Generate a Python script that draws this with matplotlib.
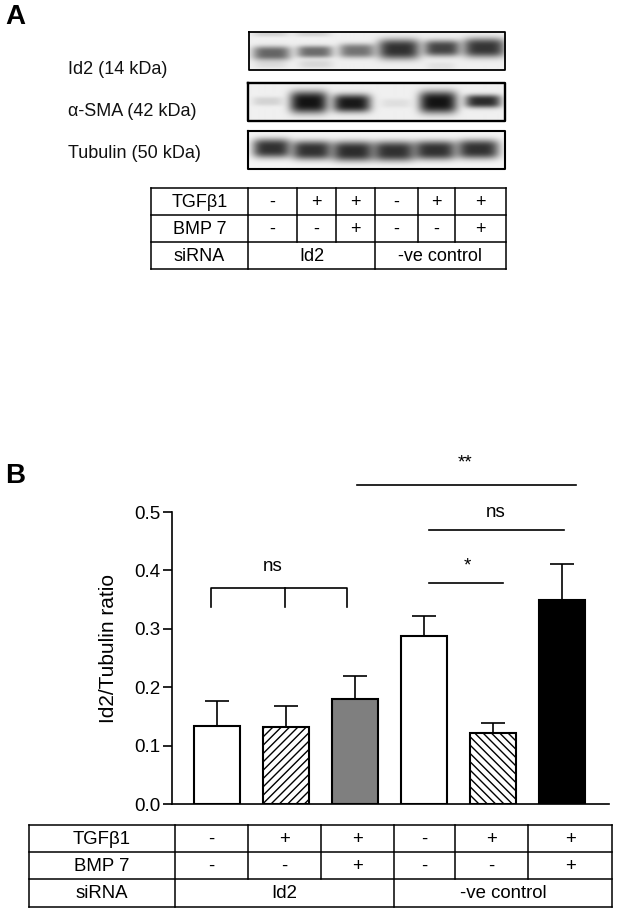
import numpy as np
import matplotlib
matplotlib.use("Agg")
import matplotlib.pyplot as plt

plt.rcParams['font.family'] = ['Liberation Sans', 'DejaVu Sans']
plt.rcParams['hatch.linewidth'] = 1.0

# =========================
# DATA
# =========================
ratio_values = [0.134, 0.131, 0.179, 0.288, 0.122, 0.349]
ratio_upper = [0.176, 0.167, 0.219, 0.322, 0.138, 0.411]
bar_faces = ['white', 'white', '#7f7f7f', 'white', 'white', 'black']
bar_hatches = [None, '////', None, None, '\\\\\\\\', None]
y_ticks = [0.0, 0.1, 0.2, 0.3, 0.4, 0.5]

tgf_row = ['-', '+', '+', '-', '+', '+']
bmp_row = ['-', '-', '+', '-', '-', '+']
sirna_groups = ['Id2', '-ve control']
row_names = ['TGFβ1', 'BMP 7', 'siRNA']
blot_names = ['Id2 (14 kDa)', 'α-SMA (42 kDa)', 'Tubulin (50 kDa)']

# band strength per lane, 0 = nothing, 1 = black
id2_bands = [0.58, 0.55, 0.52, 0.80, 0.72, 0.78]
sma_bands = [0.12, 0.92, 0.90, 0.07, 0.92, 0.82]
tub_bands = [0.80, 0.80, 0.82, 0.80, 0.80, 0.80]

W, H = 619, 913
fig = plt.figure(figsize=(W / 100, H / 100), dpi=100)

# pixel space overlay for blots, tables and labels
bg = fig.add_axes([0, 0, 1, 1])
bg.set_xlim(0, W)
bg.set_ylim(H, 0)
bg.axis('off')


def draw_blot(box, bands, centers, half_w, half_h, y_mid, base, lw):
    x0, x1, y0, y1 = box
    xx, yy = np.meshgrid(np.arange(x0, x1, 0.5), np.arange(y0, y1, 0.5))
    dark = np.full(xx.shape, base)
    for b, c, hw, hh, ym in zip(bands, centers, half_w, half_h, y_mid):
        prof = np.exp(-np.abs((xx - c) / hw) ** 4 - np.abs((yy - ym) / hh) ** 3)
        dark = dark + (1 - dark) * b * prof
    bg.imshow(1 - dark, extent=(x0, x1, y1, y0), cmap='gray', vmin=0, vmax=1,
              aspect='auto', interpolation='bilinear', zorder=1)
    bg.plot([x0, x1, x1, x0, x0], [y0, y0, y1, y1, y0], color='black', lw=lw, zorder=2)


# Id2 blot has faint smudges above and below the first lanes
draw_blot((248.5, 505, 32, 70),
          id2_bands + [0.12, 0.12, 0.08, 0.10, 0.06],
          [271, 314, 356, 398, 441, 483, 270, 312, 270, 315, 440],
          [19, 18, 18, 21, 18, 21, 18, 18, 16, 17, 14],
          [7, 6, 7, 10, 8, 9.5, 3.5, 3.5, 4, 4, 4],
          [53, 51.5, 50.5, 49, 48, 47.5, 33, 33, 64, 64, 66],
          0.06, 1.3)
draw_blot((247.5, 505, 83, 121), sma_bands, [267, 308, 351, 395, 437, 482],
          [15, 19, 19, 15, 19, 18], [4.5, 11, 9, 4.5, 11, 6.5], [101, 102, 103, 103, 102, 101], 0.06, 1.7)
draw_blot((247.5, 505, 131, 169), tub_bands, [271, 311, 352, 393, 434, 477],
          [19, 20, 21, 21, 21, 21], [9.5, 9.5, 10, 10, 9.5, 9.5], [148, 150, 151, 151, 150, 149], 0.04, 1.5)

for name, y in zip(blot_names, [69.5, 111.5, 153.5]):
    bg.text(68, y, name, fontsize=13, ha='left', va='center', color='#111111')

bg.text(5, 17, 'A', fontsize=20, fontweight='bold', ha='left', va='center')
bg.text(5, 476, 'B', fontsize=20, fontweight='bold', ha='left', va='center')


def draw_table(xs, ys, fs, lw):
    # xs: label col edge + 6 lane columns, ys: 4 row lines
    for y in ys:
        bg.plot([xs[0], xs[-1]], [y, y], color='black', lw=lw, solid_capstyle='projecting')
    bg.plot([xs[0], xs[0]], [ys[0], ys[3]], color='black', lw=lw)
    bg.plot([xs[1], xs[1]], [ys[0], ys[3]], color='black', lw=lw)
    bg.plot([xs[4], xs[4]], [ys[0], ys[3]], color='black', lw=lw)
    bg.plot([xs[-1], xs[-1]], [ys[0], ys[3]], color='black', lw=lw)
    for i in (2, 3, 5, 6):
        bg.plot([xs[i], xs[i]], [ys[0], ys[2]], color='black', lw=lw)
    for r, name in enumerate(row_names):
        bg.text((xs[0] + xs[1]) / 2, (ys[r] + ys[r + 1]) / 2 + 1, name, fontsize=fs,
                ha='center', va='center')
    for r, row in enumerate([tgf_row, bmp_row]):
        for i, s in enumerate(row):
            bg.text((xs[i + 1] + xs[i + 2]) / 2, (ys[r] + ys[r + 1]) / 2 + 1, s, fontsize=fs,
                    ha='center', va='center')
    bg.text((xs[1] + xs[4]) / 2, (ys[2] + ys[3]) / 2 + 1, sirna_groups[0], fontsize=fs,
            ha='center', va='center')
    bg.text((xs[4] + xs[7]) / 2, (ys[2] + ys[3]) / 2 + 1, sirna_groups[1], fontsize=fs,
            ha='center', va='center')


draw_table([151, 248, 297, 336, 375, 418, 455, 506], [188, 215, 242, 269], 13, 1.1)
draw_table([29, 175, 248, 321, 394, 455, 528, 612], [825, 852, 879, 907], 13.4, 1.1)

# =========================
# BAR CHART
# =========================
px_per_bar = 69.0
ax_left, ax_right, ax_top, ax_bottom = 172, 609, 512, 804
ax = fig.add_axes([ax_left / W, 1 - ax_bottom / H, (ax_right - ax_left) / W, (ax_bottom - ax_top) / H])
ax.patch.set_alpha(0)
ax.set_xlim((ax_left - 217) / px_per_bar, (ax_right - 217) / px_per_bar)
ax.set_ylim(0, 0.5)

pos = np.arange(len(ratio_values))
errs = np.array(ratio_upper) - np.array(ratio_values)
ax.bar(pos, ratio_values, width=0.667, color=bar_faces, edgecolor='black', linewidth=1.5,
       hatch=bar_hatches, zorder=2)
ax.errorbar(pos, ratio_values, yerr=[np.zeros(len(errs)), errs], fmt='none', ecolor='black',
            elinewidth=1.2, capsize=8.3, capthick=1.2, clip_on=False, zorder=1)

ax.spines['top'].set_visible(False)
ax.spines['right'].set_visible(False)
ax.spines['left'].set_linewidth(1.2)
ax.spines['bottom'].set_linewidth(1.2)
ax.set_xticks([])
ax.set_yticks(y_ticks)
ax.set_yticklabels([f'{t:.1f}' for t in y_ticks])
ax.tick_params(axis='y', length=6.5, width=1.2, labelsize=13.5, pad=2)
ax.set_ylabel('Id2/Tubulin ratio', fontsize=15)
ax.yaxis.set_label_coords((118 - ax_left) / (ax_right - ax_left), 0.534)


def sig_line(x0, x1, y, label, tx, ty):
    ax.plot([x0, x1], [y, y], color='black', lw=1.2, clip_on=False)
    ax.text(tx, ty, label, fontsize=13.5, ha='center', va='center', clip_on=False)


sig_line(2.03, 5.2, 0.546, '**', 3.59, 0.584)
sig_line(3.07, 5.03, 0.470, 'ns', 4.04, 0.500)
sig_line(3.07, 4.14, 0.378, '*', 3.63, 0.408)

# ns bracket over the three Id2 bars
ax.plot([-0.09, -0.09, 1.88, 1.88], [0.337, 0.37, 0.37, 0.337], color='black', lw=1.2, clip_on=False)
ax.plot([0.98, 0.98], [0.337, 0.37], color='black', lw=1.2, clip_on=False)
ax.text(0.8, 0.407, 'ns', fontsize=13.5, ha='center', va='center')

fig.savefig('out.png', dpi=100)
